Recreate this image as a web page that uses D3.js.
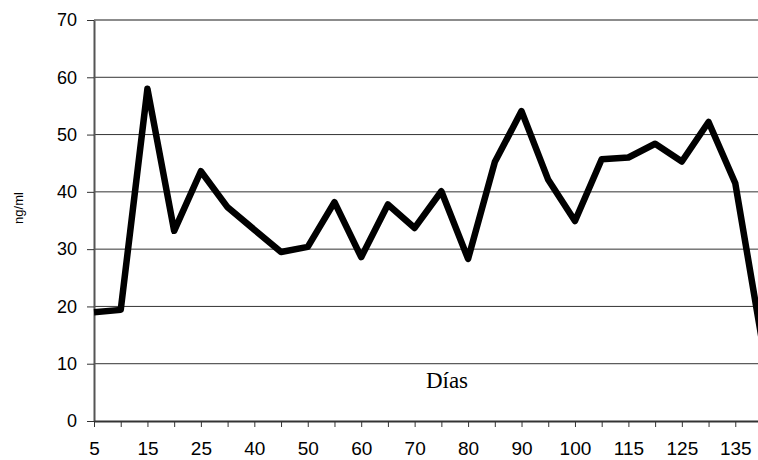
<!DOCTYPE html>
<html>
<head>
<meta charset="utf-8">
<script src="https://cdn.jsdelivr.net/npm/d3@7"></script>
<style>
  body { margin: 0; background: #fff; }
  svg { display: block; overflow: hidden; }
</style>
</head>
<body>
<svg id="chart"></svg>
<script>
// days (category axis), only every other one is labelled
const days = [5, 10, 15, 20, 25, 30, 40, 45, 50, 55, 60, 65, 70, 75, 80, 85, 90, 95, 100, 105, 115, 120, 125, 130, 135, 140];
// ng/ml readings
const values = [19.0, 19.4, 58.0, 33.2, 43.6, 37.3, 33.4, 29.5, 30.4, 38.2, 28.6, 37.8, 33.7, 40.1, 28.3,
    45.2, 54.1, 42.1, 34.9, 45.7, 46.0, 48.4, 45.3, 52.2, 41.5, 14.0];
const yTicks = [0, 10, 20, 30, 40, 50, 60, 70];

const width = 758, height = 460;
const plotLeft = 94, plotTop = 20, plotBottom = 421;
// last category sits just past the right edge of the picture
const plotRight = 762;

const svg = d3.select("#chart")
    .attr("width", width)
    .attr("height", height);

const x = d3.scalePoint()
    .domain(days)
    .range([plotLeft, plotRight]);

const y = d3.scaleLinear()
    .domain([0, 70])
    .range([plotBottom, plotTop]);

// gridlines
svg.append("g")
    .selectAll("line")
    .data(yTicks.filter(d => d > 0))
    .join("line")
    .attr("x1", plotLeft)
    .attr("x2", plotRight + 10)
    .attr("y1", d => y(d))
    .attr("y2", d => y(d))
    .attr("stroke", d => d === 70 ? "#8c8c8c" : "#333")
    .attr("stroke-width", d => d === 70 ? 2 : 1);

// y axis
const yAxis = d3.axisLeft(y)
    .tickValues(yTicks)
    .tickSize(7)
    .tickSizeOuter(0)
    .tickPadding(10);

const gy = svg.append("g")
    .attr("transform", `translate(${plotLeft},0)`)
    .call(yAxis);
gy.select(".domain").attr("stroke", "#555").attr("stroke-width", 2);
gy.selectAll(".tick line").attr("stroke", "#333");
gy.selectAll("text")
    .attr("fill", "#000")
    .style("font-family", "'Liberation Sans', Arial, sans-serif")
    .style("font-size", "18px");

// x axis
const xAxis = d3.axisBottom(x)
    .tickSize(6)
    .tickSizeOuter(0)
    .tickPadding(15)
    .tickFormat((d, i) => i % 2 === 0 ? d : "");

const gx = svg.append("g")
    .attr("transform", `translate(0,${plotBottom})`)
    .call(xAxis);
gx.select(".domain").attr("stroke", "#333").attr("stroke-width", 2);
gx.selectAll(".tick line").attr("stroke", "#333");
gx.selectAll("text")
    .attr("fill", "#000")
    .style("font-family", "'Liberation Sans', Arial, sans-serif")
    .style("font-size", "19px");

// the series
const line = d3.line()
    .x((d, i) => x(days[i]))
    .y(d => y(d));

svg.append("path")
    .datum(values)
    .attr("d", line)
    .attr("fill", "none")
    .attr("stroke", "#000")
    .attr("stroke-width", 6.5)
    .attr("stroke-linejoin", "round");

// axis titles
svg.append("text")
    .attr("x", 447)
    .attr("y", 388)
    .attr("text-anchor", "middle")
    .style("font-family", "'Liberation Serif', 'Times New Roman', serif")
    .style("font-size", "23px")
    .text("Días");

svg.append("text")
    .attr("transform", "translate(23,208) rotate(-90)")
    .attr("text-anchor", "middle")
    .style("font-family", "'Liberation Sans', Arial, sans-serif")
    .style("font-size", "13px")
    .text("ng/ml");
</script>
</body>
</html>
